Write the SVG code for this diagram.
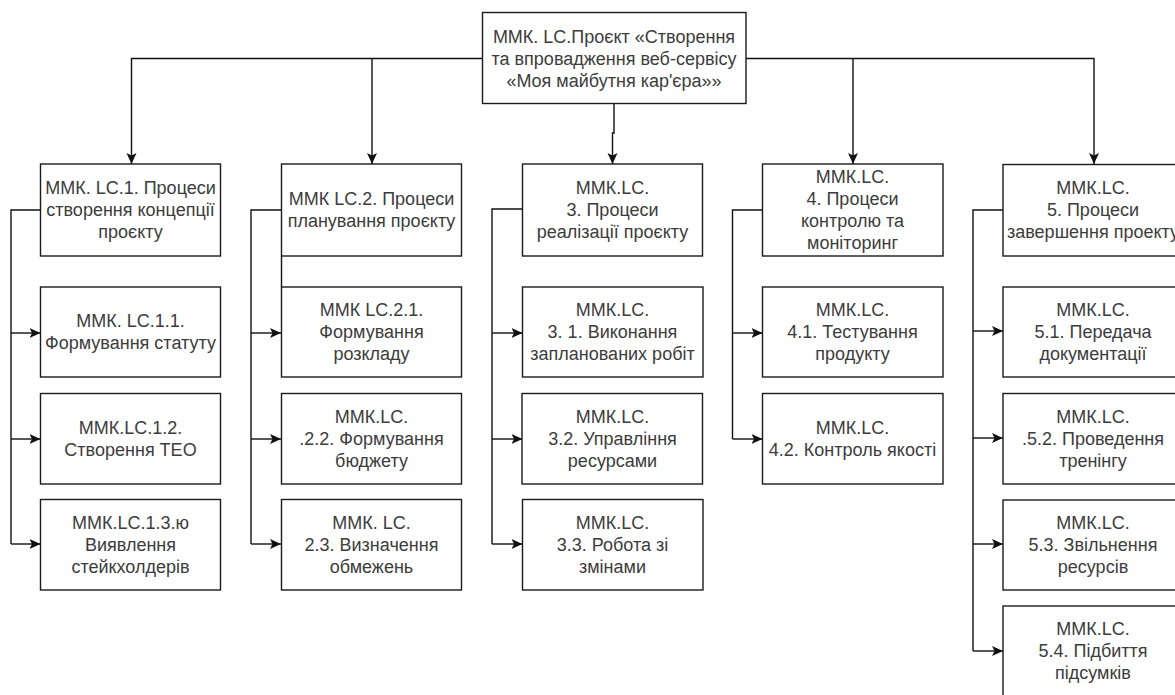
<svg xmlns="http://www.w3.org/2000/svg" width="1175" height="695" viewBox="0 0 1175 695">
  <defs>
    <style>
      .box { fill: #ffffff; stroke: #1a1a1a; stroke-width: 1.4; }
      .lbl { font-family: "Liberation Sans", Arial, sans-serif; font-size: 18px; fill: #3c3c3c; text-anchor: middle; }
      .wire { fill: none; stroke: #111111; stroke-width: 1.4; }
      .arr { marker-end: url(#head); }
    </style>
    <marker id="head" markerUnits="userSpaceOnUse" markerWidth="13" markerHeight="13" refX="11" refY="5.5" orient="auto">
      <path d="M0,0.5 L11,5.5 L0,10.5 L2.5,5.5 Z" fill="#111111"/>
    </marker>
  </defs>
  <rect width="1175" height="695" fill="#ffffff"/>

  <!-- connectors -->
  <g id="connectors">
    <!-- root to the five process groups -->
    <path class="wire arr" d="M482.5,58.5 H131.5 V164"/>
    <path class="wire arr" d="M372,58.5 V164"/>
    <path class="wire arr" d="M614,103.5 V133 H612.5 V164"/>
    <path class="wire arr" d="M746,58.5 H1094 V164"/>
    <path class="wire arr" d="M853,58.5 V164"/>

    <!-- group 1 -->
    <path class="wire" d="M40.5,210 H11 V544"/>
    <path class="wire arr" d="M11,333 H40.5"/>
    <path class="wire arr" d="M11,439 H40.5"/>
    <path class="wire arr" d="M11,544 H40.5"/>

    <!-- group 2 -->
    <path class="wire" d="M281,210 H251 V544"/>
    <path class="wire" d="M281.5,256 V287"/>
    <path class="wire arr" d="M251,333 H281"/>
    <path class="wire arr" d="M251,439 H281"/>
    <path class="wire arr" d="M251,544 H281"/>

    <!-- group 3 -->
    <path class="wire" d="M522.5,209 H492 V544"/>
    <path class="wire arr" d="M492,333 H522.5"/>
    <path class="wire arr" d="M492,439 H522.5"/>
    <path class="wire arr" d="M492,544 H522.5"/>

    <!-- group 4 -->
    <path class="wire" d="M762.5,210 H732.5 V439"/>
    <path class="wire arr" d="M732.5,333 H762.5"/>
    <path class="wire arr" d="M732.5,439 H762.5"/>

    <!-- group 5 -->
    <path class="wire" d="M1003,210 H973 V651"/>
    <path class="wire arr" d="M973,331 H1003"/>
    <path class="wire arr" d="M973,438 H1003"/>
    <path class="wire arr" d="M973,544 H1003"/>
    <path class="wire arr" d="M973,651 H1003"/>
  </g>

  <!-- root -->
  <g id="root">
    <rect class="box" x="482.5" y="12.5" width="263.5" height="91"/>
    <text class="lbl" x="614"><tspan x="614" y="42.5">ММК. LC.Проєкт «Створення</tspan><tspan x="614" y="64.5">та впровадження веб-сервісу</tspan><tspan x="614" y="86.5">«Моя майбутня кар'єра»»</tspan></text>
  </g>

  <!-- column 1 -->
  <g id="lc1">
    <rect class="box" x="40.5" y="164" width="180" height="92"/>
    <text class="lbl"><tspan x="130.5" y="194">ММК. LC.1. Процеси</tspan><tspan x="130.5" y="216">створення концепції</tspan><tspan x="130.5" y="238">проєкту</tspan></text>
  </g>
  <g id="lc1-1">
    <rect class="box" x="40.5" y="287" width="180" height="90"/>
    <text class="lbl"><tspan x="130.5" y="327">ММК. LC.1.1.</tspan><tspan x="130.5" y="349">Формування статуту</tspan></text>
  </g>
  <g id="lc1-2">
    <rect class="box" x="40.5" y="393.5" width="180" height="90.5"/>
    <text class="lbl"><tspan x="130.5" y="434">ММК.LC.1.2.</tspan><tspan x="130.5" y="456">Створення ТЕО</tspan></text>
  </g>
  <g id="lc1-3">
    <rect class="box" x="40.5" y="499.5" width="180" height="90.5"/>
    <text class="lbl"><tspan x="130.5" y="528.5">ММК.LC.1.3.ю</tspan><tspan x="130.5" y="550.5">Виявлення</tspan><tspan x="130.5" y="572.5">стейкхолдерів</tspan></text>
  </g>

  <!-- column 2 -->
  <g id="lc2">
    <rect class="box" x="281.5" y="164" width="180" height="92"/>
    <text class="lbl"><tspan x="371.5" y="205">ММК LC.2. Процеси</tspan><tspan x="371.5" y="227">планування проєкту</tspan></text>
  </g>
  <g id="lc2-1">
    <rect class="box" x="281.5" y="287" width="180" height="90"/>
    <text class="lbl"><tspan x="371.5" y="316">ММК LC.2.1.</tspan><tspan x="371.5" y="338">Формування</tspan><tspan x="371.5" y="360">розкладу</tspan></text>
  </g>
  <g id="lc2-2">
    <rect class="box" x="281.5" y="393.5" width="180" height="90.5"/>
    <text class="lbl"><tspan x="371.5" y="422.5">ММК.LC.</tspan><tspan x="371.5" y="444.5">.2.2. Формування</tspan><tspan x="371.5" y="466.5">бюджету</tspan></text>
  </g>
  <g id="lc2-3">
    <rect class="box" x="281.5" y="499.5" width="180" height="90.5"/>
    <text class="lbl"><tspan x="371.5" y="528.5">ММК. LC.</tspan><tspan x="371.5" y="550.5">2.3. Визначення</tspan><tspan x="371.5" y="572.5">обмежень</tspan></text>
  </g>

  <!-- column 3 -->
  <g id="lc3">
    <rect class="box" x="522.5" y="164" width="180" height="92"/>
    <text class="lbl"><tspan x="612.5" y="194">ММК.LC.</tspan><tspan x="612.5" y="216">3. Процеси</tspan><tspan x="612.5" y="238">реалізації проєкту</tspan></text>
  </g>
  <g id="lc3-1">
    <rect class="box" x="522.5" y="287" width="180.5" height="90"/>
    <text class="lbl"><tspan x="612.5" y="316">ММК.LC.</tspan><tspan x="612.5" y="338">3. 1. Виконання</tspan><tspan x="612.5" y="360">запланованих робіт</tspan></text>
  </g>
  <g id="lc3-2">
    <rect class="box" x="522" y="393.5" width="180.5" height="90.5"/>
    <text class="lbl"><tspan x="612.5" y="422.5">ММК.LC.</tspan><tspan x="612.5" y="444.5">3.2. Управління</tspan><tspan x="612.5" y="466.5">ресурсами</tspan></text>
  </g>
  <g id="lc3-3">
    <rect class="box" x="522.5" y="499.5" width="180.5" height="90.5"/>
    <text class="lbl"><tspan x="612.5" y="528.5">ММК.LC.</tspan><tspan x="612.5" y="550.5">3.3. Робота зі</tspan><tspan x="612.5" y="572.5">змінами</tspan></text>
  </g>

  <!-- column 4 -->
  <g id="lc4">
    <rect class="box" x="762.5" y="164" width="180.5" height="92"/>
    <text class="lbl"><tspan x="852.5" y="183">ММК.LC.</tspan><tspan x="852.5" y="205">4. Процеси</tspan><tspan x="852.5" y="227">контролю та</tspan><tspan x="852.5" y="249">моніторинг</tspan></text>
  </g>
  <g id="lc4-1">
    <rect class="box" x="762.5" y="287" width="180.5" height="90"/>
    <text class="lbl"><tspan x="852.5" y="316">ММК.LC.</tspan><tspan x="852.5" y="338">4.1. Тестування</tspan><tspan x="852.5" y="360">продукту</tspan></text>
  </g>
  <g id="lc4-2">
    <rect class="box" x="762.5" y="393.5" width="180.5" height="90.5"/>
    <text class="lbl"><tspan x="852.5" y="434">ММК.LC.</tspan><tspan x="852.5" y="456">4.2. Контроль якості</tspan></text>
  </g>

  <!-- column 5 (runs past the right edge of the sheet) -->
  <g id="lc5">
    <rect class="box" x="1003" y="164.5" width="180" height="91.5"/>
    <text class="lbl"><tspan x="1093" y="194">ММК.LC.</tspan><tspan x="1093" y="216">5. Процеси</tspan><tspan x="1093" y="238">завершення проекту</tspan></text>
  </g>
  <g id="lc5-1">
    <rect class="box" x="1003" y="287" width="180" height="90"/>
    <text class="lbl"><tspan x="1093" y="316">ММК.LC.</tspan><tspan x="1093" y="338">5.1. Передача</tspan><tspan x="1093" y="360">документації</tspan></text>
  </g>
  <g id="lc5-2">
    <rect class="box" x="1003" y="393.5" width="180" height="90.5"/>
    <text class="lbl"><tspan x="1093" y="422.5">ММК.LC.</tspan><tspan x="1093" y="444.5">.5.2. Проведення</tspan><tspan x="1093" y="466.5">тренінгу</tspan></text>
  </g>
  <g id="lc5-3">
    <rect class="box" x="1003" y="500" width="180" height="90"/>
    <text class="lbl"><tspan x="1093" y="528.5">ММК.LC.</tspan><tspan x="1093" y="550.5">5.3. Звільнення</tspan><tspan x="1093" y="572.5">ресурсів</tspan></text>
  </g>
  <g id="lc5-4">
    <rect class="box" x="1003" y="606" width="180" height="91"/>
    <text class="lbl"><tspan x="1093" y="635">ММК.LC.</tspan><tspan x="1093" y="657">5.4. Підбиття</tspan><tspan x="1093" y="679">підсумків</tspan></text>
  </g>
</svg>
